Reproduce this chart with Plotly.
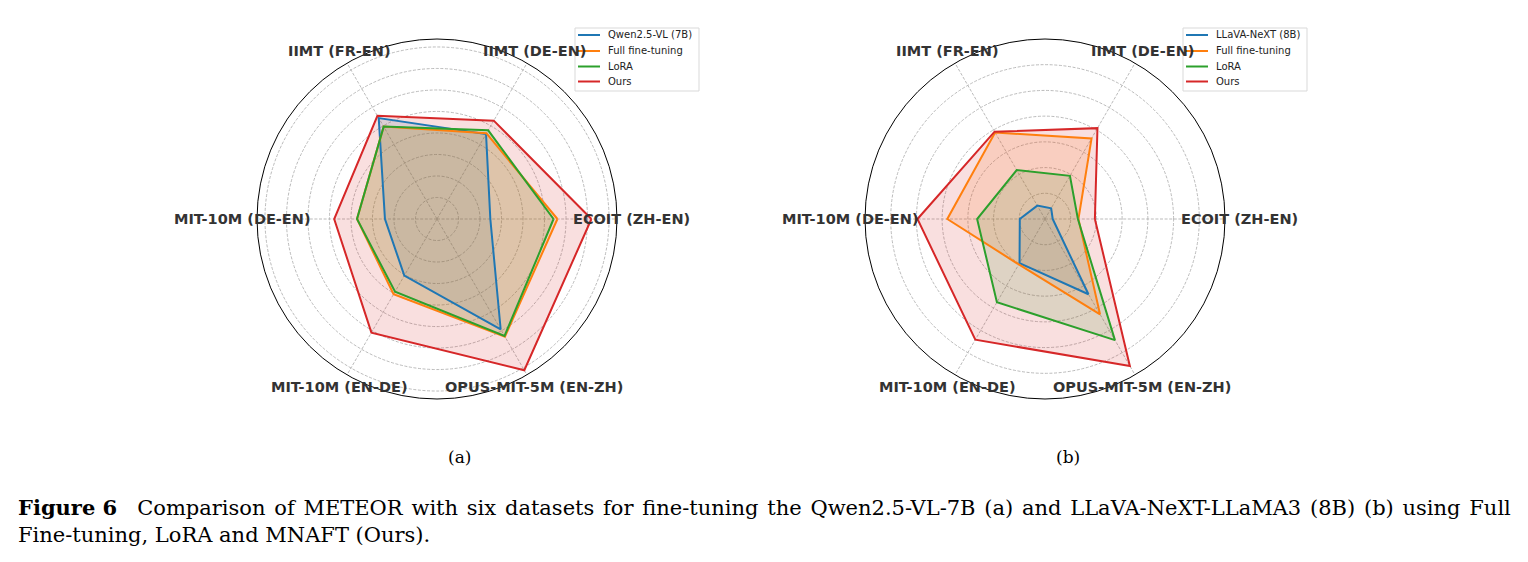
import math
import plotly.graph_objects as go

W, H = 1528, 562

categories = ["ECOIT (ZH-EN)", "IIMT (DE-EN)", "IIMT (FR-EN)",
              "MIT-10M (DE-EN)", "MIT-10M (EN-DE)", "OPUS-MIT-5M (EN-ZH)"]

# (a) Qwen2.5-VL-7B
names_a = ["Qwen2.5-VL (7B)", "Full fine-tuning", "LoRA", "Ours"]
qwen_base = [12.4, 22.8, 27.1, 12.1, 15.2, 29.6]
qwen_full = [28.0, 23.0, 24.8, 18.6, 20.2, 31.6]
qwen_lora = [27.1, 23.8, 24.8, 18.6, 19.5, 31.4]
qwen_ours = [35.9, 26.4, 27.7, 23.9, 30.5, 40.6]
rmax_a = 41.85

# (b) LLaVA-NeXT-LLaMA3 (8B)
names_b = ["LLaVA-NeXT (8B)", "Full fine-tuning", "LoRA", "Ours"]
llava_base = [1.5, 2.4, 3.0, 4.9, 9.9, 16.9]
llava_full = [6.5, 18.1, 19.4, 19.0, 10.2, 21.4]
llava_lora = [6.4, 9.7, 11.0, 13.2, 18.7, 27.2]
llava_ours = [9.7, 20.4, 19.6, 24.8, 27.1, 33.0]
rmax_b = 35.0

colors = ["#1f77b4", "#ff7f0e", "#2ca02c", "#d62728"]
fills = ["rgba(31,119,180,0.15)", "rgba(255,127,14,0.15)",
         "rgba(44,160,44,0.15)", "rgba(214,39,40,0.15)"]

caption_words = ["Comparison", "of", "METEOR", "with", "six", "datasets", "for",
                 "fine-tuning", "the", "Qwen2.5-VL-7B", "(a)", "and",
                 "LLaVA-NeXT-LLaMA3", "(8B)", "(b)", "using", "Full"]
caption_line2 = "Fine-tuning, LoRA and MNAFT (Ours)."

fig = go.Figure()
annotations = []
shapes = []


def closed(v):
    return list(v) + [v[0]]


def px(x):
    return x / W


def py(y):
    return 1 - y / H


def add_panel(series, names, polar, rmax, cx, cy, R, leg_box, leg_line_x, leg_text_x):
    # fills first, then outlines on top
    for vals, f in zip(series, fills):
        fig.add_trace(go.Scatterpolar(
            r=closed(vals), theta=closed(categories), mode="lines",
            line=dict(width=0), fill="toself", fillcolor=f,
            subplot=polar, showlegend=False, hoverinfo="skip"))
    for vals, name, c in zip(series, names, colors):
        fig.add_trace(go.Scatterpolar(
            r=closed(vals), theta=closed(categories), mode="lines",
            line=dict(color=c, width=2), name=name, subplot=polar,
            showlegend=False, hoverinfo="skip"))
    # category labels around the circle
    n = len(categories)
    for i, cat in enumerate(categories):
        ang = 2 * math.pi * i / n
        x = cx + 1.08 * R * math.cos(ang)
        y = cy - 1.08 * R * math.sin(ang)
        annotations.append(dict(
            text="<b>%s</b>" % cat, x=px(x), y=py(y), xref="paper", yref="paper",
            xanchor="center", yanchor="middle", showarrow=False,
            font=dict(family="DejaVu Sans", size=14.5, color="#333333")))
    # legend box
    x0, y0, x1, y1 = leg_box
    shapes.append(dict(type="rect", xref="paper", yref="paper",
                       x0=px(x0), x1=px(x1), y0=py(y1), y1=py(y0),
                       line=dict(color="#d9d9d9", width=1),
                       fillcolor="rgba(255,255,255,0.8)", layer="above"))
    ys = [35, 51, 66.5, 81.5]
    for name, c, yy in zip(names, colors, ys):
        shapes.append(dict(type="line", xref="paper", yref="paper",
                           x0=px(leg_line_x), x1=px(leg_line_x + 22),
                           y0=py(yy), y1=py(yy),
                           line=dict(color=c, width=2), layer="above"))
        annotations.append(dict(
            text=name, x=px(leg_text_x), y=py(yy), xref="paper", yref="paper",
            xanchor="left", yanchor="middle", showarrow=False,
            font=dict(family="DejaVu Sans", size=10, color="#222222")))


add_panel([qwen_base, qwen_full, qwen_lora, qwen_ours], names_a,
          "polar", rmax_a, 437, 219, 180, (575, 28, 699, 91), 578, 606)
add_panel([llava_base, llava_full, llava_lora, llava_ours], names_b,
          "polar2", rmax_b, 1045, 219, 180, (1183, 28, 1307, 91), 1186, 1214)

grid = "rgba(175,175,175,0.85)"


def polar_cfg(x0, x1, rmax):
    return dict(
        domain=dict(x=[x0 / W, x1 / W], y=[1 - 399 / H, 1 - 39 / H]),
        bgcolor="white",
        radialaxis=dict(range=[0, rmax], dtick=5, showticklabels=False,
                        ticks="", showline=False, gridcolor=grid,
                        griddash="3px,1.6px", gridwidth=0.8),
        angularaxis=dict(rotation=0, direction="counterclockwise",
                         showticklabels=False, ticks="", showline=True,
                         linecolor="black", linewidth=1, gridcolor=grid,
                         griddash="3px,1.6px", gridwidth=0.8),
    )


gap = " \u200a"
annotations += [
    dict(text="(a)", x=px(459), y=py(457), xref="paper", yref="paper",
         xanchor="center", yanchor="middle", showarrow=False,
         font=dict(family="DejaVu Serif", size=17, color="black")),
    dict(text="(b)", x=px(1068), y=py(457), xref="paper", yref="paper",
         xanchor="center", yanchor="middle", showarrow=False,
         font=dict(family="DejaVu Serif", size=17, color="black")),
    dict(text="<b>Figure 6</b>   " + gap.join(caption_words),
         x=px(16), y=py(507), xref="paper", yref="paper",
         xanchor="left", yanchor="middle", showarrow=False,
         font=dict(family="DejaVu Serif", size=21, color="black")),
    dict(text=caption_line2,
         x=px(16), y=py(535), xref="paper", yref="paper",
         xanchor="left", yanchor="middle", showarrow=False,
         font=dict(family="DejaVu Serif", size=21, color="black")),
]

fig.update_layout(
    width=W, height=H, margin=dict(l=0, r=0, t=0, b=0),
    paper_bgcolor="white", plot_bgcolor="white", showlegend=False,
    polar=polar_cfg(257, 617, rmax_a),
    polar2=polar_cfg(865, 1225, rmax_b),
    annotations=annotations, shapes=shapes,
)

fig.write_html("out.html")
